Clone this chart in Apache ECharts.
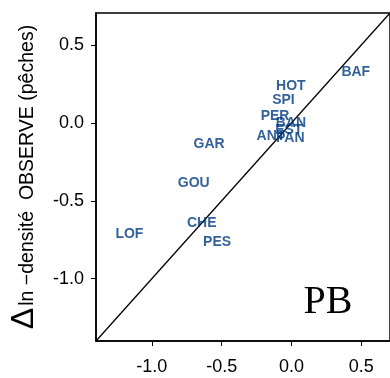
<!DOCTYPE html>
<html>
<head>
<meta charset="utf-8">
<script src="https://cdn.jsdelivr.net/npm/echarts@6/dist/echarts.min.js"></script>
<style>
html,body{margin:0;padding:0;background:#fff;}
#c{width:390px;height:378px;}
</style>
</head>
<body>
<div id="c"></div>
<script>
// Data (drawing order: later labels drawn on top)
const siteNames = ['ANT','EST','BAN','PER','PAN','HOT','SPI','BAF','GAR','GOU','CHE','PES','LOF'];
const xValues   = [-0.147,-0.019,-0.005,-0.118,-0.009,-0.005,-0.058,0.460,-0.590,-0.700,-0.643,-0.533,-1.161];
const yValues   = [-0.083,-0.045,-0.003, 0.045,-0.099, 0.237, 0.147,0.325,-0.135,-0.385,-0.644,-0.763,-0.715];
const tickValues = [-1.0,-0.5,0.0,0.5];
const axisMin = -1.4;
const axisMax = 0.705;
const identityLine = [[axisMin,axisMin],[axisMax,axisMax]];
const panelTag = 'PB';
const yTitleSymbol = 'Δ';
const yTitleText = 'ln −densité  OBSERVE (pêches)';

const FONT = '"Liberation Sans", Arial, sans-serif';
const chart = echarts.init(document.getElementById('c'), null, {renderer:'canvas'});

const pts = siteNames.map((n,i)=>({name:n, value:[xValues[i], yValues[i]]}));

chart.setOption({
  animation:false,
  backgroundColor:'#fff',
  grid:{left:95, top:13, width:297, height:328, show:true, borderColor:'#000', borderWidth:1.5, backgroundColor:'transparent'},
  xAxis:{
    type:'value', min:axisMin, max:axisMax,
    splitLine:{show:false},
    axisLine:{show:true, onZero:false, lineStyle:{color:'#000', width:1.5}},
    axisTick:{show:true, length:5, lineStyle:{color:'#000', width:1}, customValues:tickValues},
    axisLabel:{customValues:tickValues, margin:17, color:'#000', fontFamily:FONT, fontSize:18,
      formatter:v=>v.toFixed(1)}
  },
  yAxis:{
    type:'value', min:axisMin, max:axisMax,
    splitLine:{show:false},
    axisLine:{show:true, onZero:false, lineStyle:{color:'#000', width:1.5}},
    axisTick:{show:true, length:5, lineStyle:{color:'#000', width:1}, customValues:tickValues},
    axisLabel:{customValues:tickValues, margin:12, color:'#000', fontFamily:FONT, fontSize:18,
      formatter:v=>v.toFixed(1)},
    name:'{d|'+yTitleSymbol+'}{t|'+yTitleText+'}',
    nameLocation:'middle', nameGap:56, nameRotate:90,
    nameTextStyle:{
      color:'#000', fontFamily:FONT,
      rich:{
        d:{fontSize:32, fontFamily:FONT, color:'#000', verticalAlign:'bottom', lineHeight:30, padding:[0,2,0,0]},
        t:{fontSize:19.5, fontFamily:FONT, color:'#000', verticalAlign:'bottom', lineHeight:30, padding:[0,0,2,0]}
      }
    }
  },
  series:[
    {
      type:'line', data:identityLine, showSymbol:false, symbol:'none',
      lineStyle:{color:'#000', width:1.3}, silent:true, z:1
    },
    {
      type:'scatter', data:pts, symbolSize:0, z:3,
      label:{show:true, position:'inside', formatter:p=>p.name,
        color:'#003a80', fontFamily:FONT, fontWeight:'bold', fontSize:14},
      labelLayout:{hideOverlap:false}
    }
  ],
  graphic:[
    {type:'text', x:328, y:302, style:{text:panelTag, fill:'#000', font:'40px "Liberation Serif", "Times New Roman", serif', textAlign:'center', textVerticalAlign:'middle'}}
  ]
});
</script>
</body>
</html>
